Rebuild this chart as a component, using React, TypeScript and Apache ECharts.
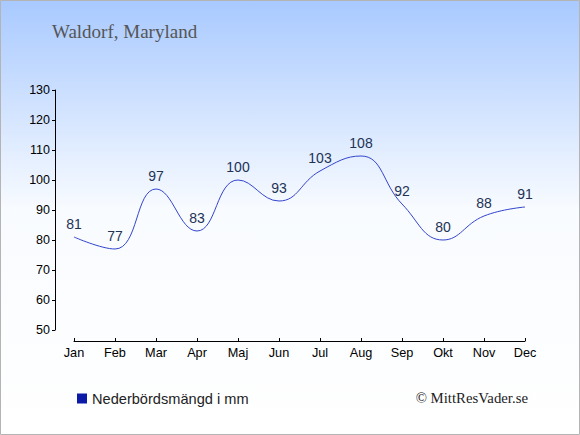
import React, { useEffect, useRef } from "react";
import * as echarts from "echarts";

const months = ["Jan", "Feb", "Mar", "Apr", "Maj", "Jun", "Jul", "Aug", "Sep", "Okt", "Nov", "Dec"];
const precipitation = [81, 77, 97, 83, 100, 93, 103, 108, 92, 80, 88, 91];
const title = "Waldorf, Maryland";
const seriesName = "Nederbördsmängd i mm";
const credit = "© MittResVader.se";

export default function App() {
  const ref = useRef<HTMLDivElement>(null);
  useEffect(() => {
    document.body.style.margin = "0";
    const chart = echarts.init(ref.current!, null, { renderer: "svg" });
    chart.setOption({
      animation: false,
      backgroundColor: new echarts.graphic.LinearGradient(0, 0, 0, 1, [
        { offset: 0, color: "#a8c9ff" },
        { offset: 0.48, color: "#f8fbff" },
        { offset: 1, color: "#ffffff" },
      ]),
      title: {
        text: title,
        left: 47,
        top: 17,
        textStyle: { fontFamily: "Liberation Serif", fontWeight: "normal", fontSize: 19, color: "#555555" },
      },
      grid: { left: 74, right: 55, top: 90, bottom: 105 },
      xAxis: {
        type: "category",
        data: months,
        boundaryGap: false,
        offset: 11,
        axisLine: { lineStyle: { color: "#000", width: 1 } },
        axisTick: { inside: true, length: 3, lineStyle: { color: "#000" } },
        axisLabel: { color: "#000", fontSize: 12.7, fontFamily: "Liberation Sans", margin: 5 },
        splitLine: { show: false },
      },
      yAxis: {
        type: "value",
        min: 50,
        max: 130,
        interval: 10,
        offset: 19,
        axisLine: { show: true, lineStyle: { color: "#000", width: 1 } },
        axisTick: { show: true, length: 3, lineStyle: { color: "#000" } },
        axisLabel: { color: "#000", fontSize: 12.5, fontFamily: "Liberation Sans", margin: 5 },
        splitLine: { show: false },
      },
      legend: {
        left: 72,
        top: 386,
        icon: "rect",
        itemWidth: 10,
        itemHeight: 10,
        itemGap: 6,
        textStyle: { fontSize: 14.6, color: "#222", fontFamily: "Liberation Sans" },
        data: [{ name: seriesName, itemStyle: { color: "#0b1ba8" } }],
      },
      graphic: [
        {
          type: "rect",
          shape: { x: 0.5, y: 0.5, width: 579, height: 434 },
          style: { fill: "none", stroke: "#b4b4b4", lineWidth: 1 },
          silent: true,
        },
        {
          type: "text",
          right: 52,
          top: 390,
          style: { text: credit, font: "14.8px 'Liberation Serif'", fill: "#222" },
        },
      ],
      series: [
        {
          name: seriesName,
          type: "line",
          data: precipitation,
          smooth: 0.45,
          symbol: "circle",
          symbolSize: 0,
          showSymbol: true,
          lineStyle: { color: "#3344cc", width: 1 },
          itemStyle: { color: "#3344cc" },
          label: {
            show: true,
            position: "top",
            distance: 6,
            color: "#223355",
            fontSize: 14,
            fontFamily: "Liberation Sans",
          },
        },
      ],
    });
    return () => chart.dispose();
  }, []);
  return <div ref={ref} style={{ width: 580, height: 435 }} />;
}
